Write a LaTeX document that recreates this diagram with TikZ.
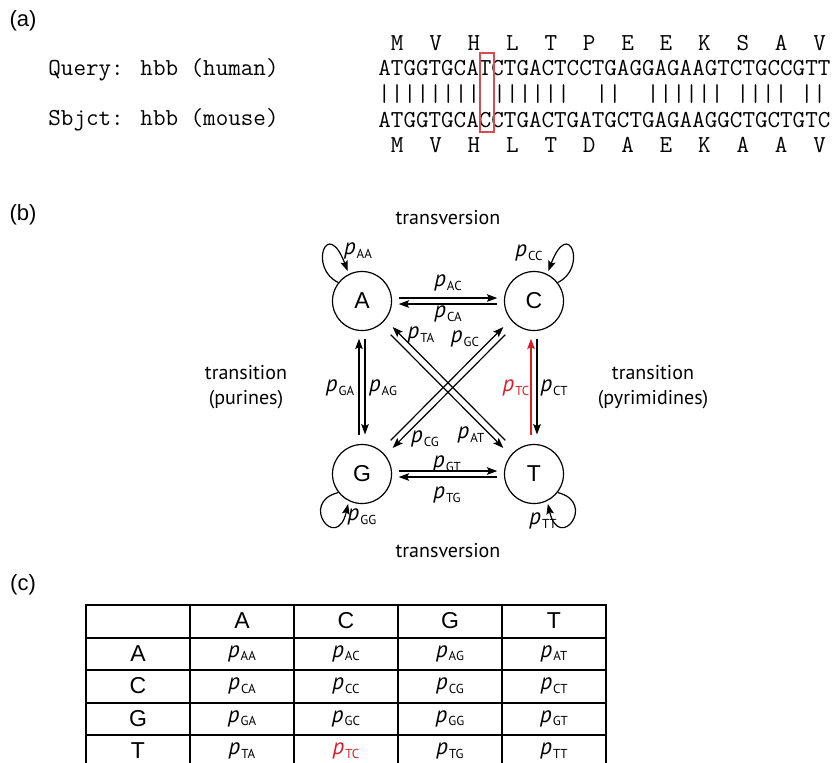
\documentclass[tikz,border=0pt]{standalone}
\usepackage{fontspec}
\usepackage{tikz}
\usetikzlibrary{arrows.meta}

\newfontfamily\helv{Liberation Sans}
\newfontfamily\myriad{PT Sans}

\definecolor{tcred}{RGB}{214,32,40}
\definecolor{boxred}{RGB}{212,80,80}

% rate label p_{XY}
\newcommand{\rate}[1]{\textit{p}\kern0.5pt\raisebox{-1.8pt}{\fontsize{6.5}{6.5}\selectfont #1}}

\begin{document}
\begin{tikzpicture}[x=0.5pt,y=0.5pt,
	state/.style={circle,draw,line width=0.6pt,minimum size=29.5pt,inner sep=0pt,
		font=\helv\fontsize{11.5}{13}\selectfont},
	arr/.style={-{Stealth[length=5.2pt,width=3.8pt,inset=1pt]},line width=0.6pt},
	plab/.style={inner sep=0pt,font=\myriad\fontsize{11.5}{12}\selectfont},
	txt/.style={inner sep=0pt,font=\myriad\fontsize{10}{12.5}\selectfont},
	caption/.style={inner sep=0pt,font=\helv\fontsize{11}{13}\selectfont},
	seq/.style={inner sep=0pt,font=\ttfamily\fontsize{12.19}{14}\selectfont},
	tabhead/.style={inner sep=0pt,font=\helv\fontsize{11.5}{13}\selectfont},
	tabline/.style={line width=1pt,line cap=rect}]
	
	\useasboundingbox (0,0) rectangle (840,-762);
	
	% (a) alignment
	\node[caption] (laba) at (23,-21) {(a)};
	\node[seq,anchor=base west] (qname) at (48,-75) {Query: hbb (human)};
	\node[seq,anchor=base west] (sname) at (48,-125) {Sbjct: hbb (mouse)};
	\node[seq,anchor=west] (qseq) at (378,-68) {ATGGTGCATCTGACTCCTGAGGAGAAGTCTGCCGTT};
	\node[seq,anchor=west] (sseq) at (378,-120) {ATGGTGCACCTGACTGATGCTGAGAAGGCTGCTGTC};
	\foreach \aa [count=\k from 0] in {M,V,H,L,T,P,E,E,K,S,A,V}
		\node[seq] (qaa\k) at ({397.2+38.4*\k},-43) {\aa};
	\foreach \aa [count=\k from 0] in {M,V,H,L,T,D,A,E,K,A,A,V}
		\node[seq] (saa\k) at ({397.2+38.4*\k},-145) {\aa};
	\foreach \i in {0,1,2,3,4,5,6,7,9,10,11,12,13,14,17,18,21,22,23,24,25,26,28,29,30,31,33,34}
		\node[seq] (bar\i) at ({384.4+12.8*\i},-94) {|};
	% mismatch box
	\draw[boxred,line width=0.6pt] (480,-53) rectangle (494,-132);
	
	% (b) substitution graph
	\node[caption] (labb) at (23,-215) {(b)};
	\node[state] (A) at (362,-301) {A};
	\node[state] (C) at (534,-301) {C};
	\node[state] (G) at (362,-474) {G};
	\node[state] (T) at (534,-474) {T};
	
	\node[txt] (trvtop) at (448,-218) {transversion};
	\node[txt] (trvbot) at (448,-551) {transversion};
	\node[txt,align=center] (trpur) at (246,-387) {transition\\(purines)};
	\node[txt,align=center] (trpyr) at (653,-387) {transition\\(pyrimidines)};
	
	% self loops
	\draw[arr,shorten >=1.5pt] (A.142) .. controls +(-30,14) and +(-22,58) .. (A.116);
	\draw[arr,shorten >=1.5pt] (C.38) .. controls +(30,14) and +(22,58) .. (C.64);
	\draw[arr,shorten >=1.5pt] (G.218) .. controls +(-40,-10) and +(-12,-52) .. (G.244);
	\draw[arr,shorten >=1.5pt] (T.-38) .. controls +(40,-10) and +(12,-52) .. (T.-64);
	
	% transversions, horizontal
	\draw[arr,shorten <=3.3pt,shorten >=3.3pt,transform canvas={yshift=1.5pt}] (A) -- (C);
	\draw[arr,shorten <=3.3pt,shorten >=3.3pt,transform canvas={yshift=-1.5pt}] (C) -- (A);
	\draw[arr,shorten <=3.3pt,shorten >=3.3pt,transform canvas={yshift=1.5pt}] (G) -- (T);
	\draw[arr,shorten <=3.3pt,shorten >=3.3pt,transform canvas={yshift=-1.5pt}] (T) -- (G);
	
	% transitions, vertical
	\draw[arr,shorten <=4.7pt,shorten >=3.8pt,transform canvas={xshift=-1.5pt}] (G) -- (A);
	\draw[arr,shorten <=3.8pt,shorten >=4.7pt,transform canvas={xshift=1.5pt}] (A) -- (G);
	\draw[arr,tcred,shorten <=4.7pt,shorten >=3.8pt,transform canvas={xshift=-1.5pt}] (T) -- (C);
	\draw[arr,shorten <=3.8pt,shorten >=4.7pt,transform canvas={xshift=1.5pt}] (C) -- (T);
	
	% transversions, diagonal
	\draw[arr,shorten <=7pt,shorten >=5pt,transform canvas={shift={(1.2pt,1.2pt)}}] (T) -- (A);
	\draw[arr,shorten <=7pt,shorten >=5pt,transform canvas={shift={(-1.2pt,-1.2pt)}}] (A) -- (T);
	\draw[arr,shorten <=7pt,shorten >=5pt,transform canvas={shift={(-1.2pt,1.2pt)}}] (G) -- (C);
	\draw[arr,shorten <=7pt,shorten >=5pt,transform canvas={shift={(1.2pt,-1.2pt)}}] (C) -- (G);
	
	% rate labels
	\node[plab] (lAA) at (358,-251) {\rate{AA}};
	\node[plab] (lCC) at (529,-253) {\rate{CC}};
	\node[plab] (lGG) at (362,-517) {\rate{GG}};
	\node[plab] (lTT) at (543,-521) {\rate{TT}};
	\node[plab] (lAC) at (448,-283) {\rate{AC}};
	\node[plab] (lCA) at (448,-314) {\rate{CA}};
	\node[plab] (lGT) at (447,-464) {\rate{GT}};
	\node[plab] (lTG) at (447,-495) {\rate{TG}};
	\node[plab] (lGA) at (340,-388) {\rate{GA}};
	\node[plab] (lAG) at (383,-388) {\rate{AG}};
	\node[plab,text=tcred] (lTC) at (516,-388) {\rate{TC}};
	\node[plab] (lCT) at (554,-388) {\rate{CT}};
	\node[plab] (lTA) at (421,-335) {\rate{TA}};
	\node[plab] (lGC) at (465,-339) {\rate{GC}};
	\node[plab] (lCG) at (425,-439) {\rate{CG}};
	\node[plab] (lAT) at (471,-435) {\rate{AT}};
	
	% (c) rate table
	\node[caption] (labc) at (23,-585) {(c)};
	\foreach \k in {0,...,4}
		\draw[tabline] (86,{-605-32.5*\k}) -- (606,{-605-32.5*\k});
	\foreach \k in {0,...,5}
		\draw[tabline] ({86+104*\k},-605) -- ({86+104*\k},-775);
	\foreach \b [count=\c] in {A,C,G,T}
		\node[tabhead] (col\b) at ({138+104*\c},-621) {\b};
	\foreach \b [count=\r] in {A,C,G,T}
		\node[tabhead] (row\b) at (138,{-621-32.5*\r}) {\b};
	\foreach \rn [count=\r] in {A,C,G,T}{
		\foreach \cn [count=\c] in {A,C,G,T}{
			\ifnum\r\c=42 \def\cellcol{tcred}\else\def\cellcol{black}\fi
			\node[plab,text=\cellcol] (cell\rn\cn) at ({138+104*\c},{-621-32.5*\r}) {\rate{\rn\cn}};
		}
	}
	
\end{tikzpicture}
\end{document}
